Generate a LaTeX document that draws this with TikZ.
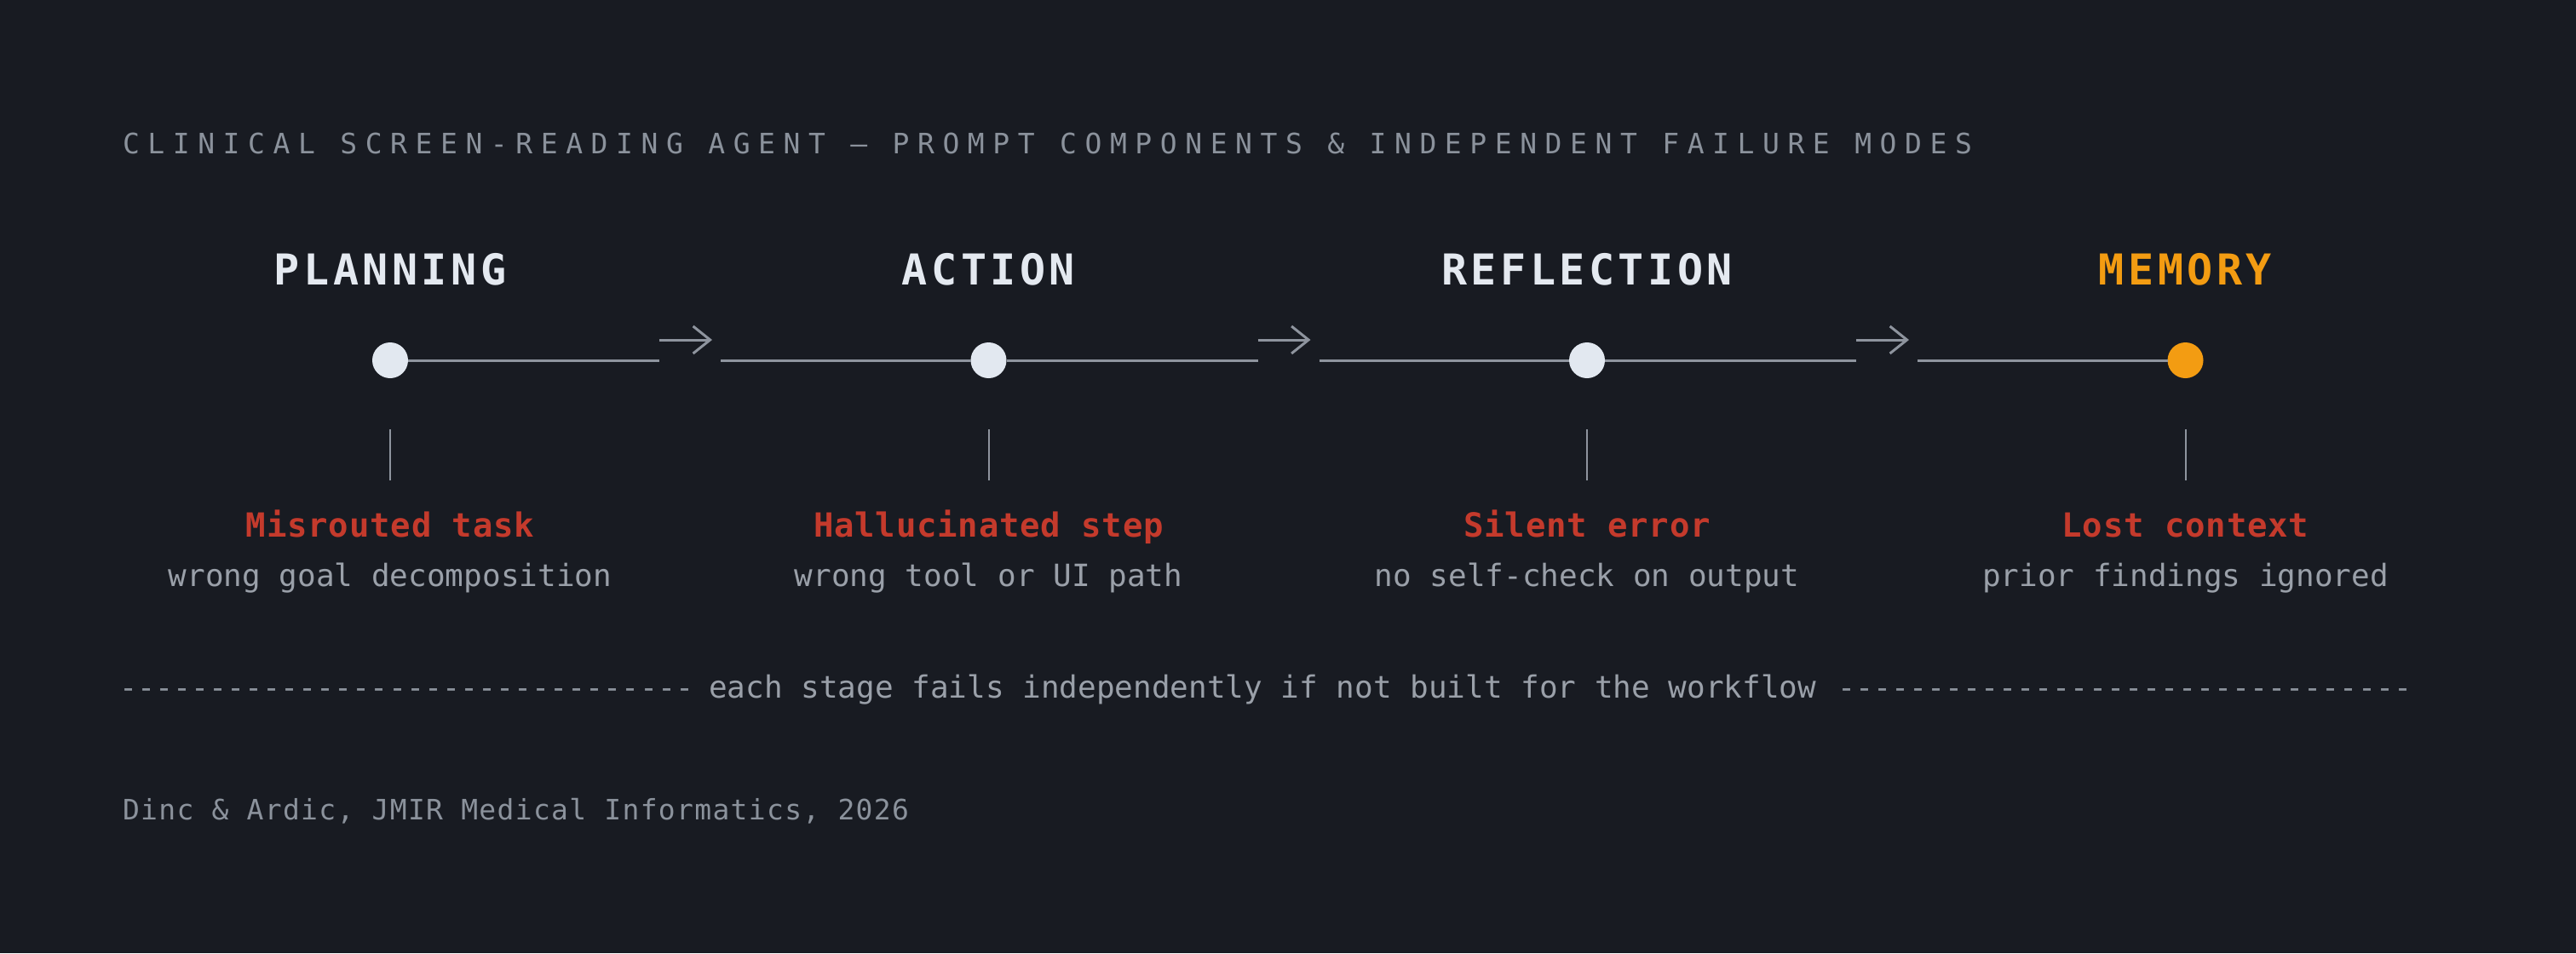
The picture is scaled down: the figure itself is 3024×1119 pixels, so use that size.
\documentclass[tikz,border=0pt]{standalone}
\usepackage{fontspec}
\usetikzlibrary{arrows.meta}
\newfontfamily\mono{DejaVu Sans Mono}
\definecolor{bgc}{HTML}{181B22}
\definecolor{titlec}{HTML}{8B929C}
\definecolor{headc}{HTML}{E4E9F0}
\definecolor{dotc}{HTML}{E2E8F0}
\definecolor{orangec}{HTML}{F39C12}
\definecolor{redc}{HTML}{C43A2C}
\definecolor{descc}{HTML}{9AA0A9}
\definecolor{linec}{HTML}{8E949E}
\tikzset{
  txt/.style={inner sep=0pt, outer sep=0pt},
  titletext/.style={txt, anchor=base west, text=titlec,
    font=\mono\fontsize{16.5pt}{20pt}\selectfont\addfontfeatures{LetterSpace=29}},
  head/.style={txt, anchor=base, text=headc,
    font=\mono\bfseries\fontsize{25pt}{30pt}\selectfont\addfontfeatures{LetterSpace=9}},
  dot/.style={circle, fill=dotc, minimum size=21pt, inner sep=0pt, outer sep=0pt},
  fail/.style={txt, anchor=base, text=redc,
    font=\mono\bfseries\fontsize{19.5pt}{24pt}\selectfont\addfontfeatures{LetterSpace=2}},
  desc/.style={txt, anchor=base, text=descc,
    font=\mono\fontsize{18pt}{22pt}\selectfont},
  conn/.style={draw=linec, line width=1.5pt},
  arr/.style={draw=linec, line width=1.5pt, -{Straight Barb[length=10pt,width=16pt]}},
  tick/.style={draw=linec, line width=1pt},
  dashrow/.style={txt, anchor=base west, text=titlec,
    font=\mono\fontsize{17.5pt}{21pt}\selectfont},
  midtext/.style={txt, anchor=base west, text=descc,
    font=\mono\fontsize{18pt}{22pt}\selectfont},
  foot/.style={txt, anchor=base west, text=titlec,
    font=\mono\fontsize{16.5pt}{20pt}\selectfont\addfontfeatures{LetterSpace=4}}
}
\begin{document}
\begin{tikzpicture}[x=0.5pt,y=-0.5pt]
\fill[bgc] (0,0) rectangle (3024,1119);
\useasboundingbox (0,0) rectangle (3024,1119);

\node[titletext] (title) at (144,180) {CLINICAL SCREEN-READING AGENT — PROMPT COMPONENTS \& INDEPENDENT FAILURE MODES};

% headings
\node[head] (h1) at (458,334) {PLANNING};
\node[head] (h2) at (1160.5,334) {ACTION};
\node[head] (h3) at (1863,334) {REFLECTION};
\node[head, text=orangec] (h4) at (2565.5,334) {MEMORY};

% dots
\node[dot] (c1) at (458,423) {};
\node[dot] (c2) at (1160.5,423) {};
\node[dot] (c3) at (1863,423) {};
\node[dot, fill=orangec] (c4) at (2565.5,423) {};

% connectors
\coordinate (e1) at (774,423);
\coordinate (a1s) at (774,399);
\coordinate (a1e) at (836,399);
\coordinate (b1) at (846,423);
\coordinate (e2) at (1476.5,423);
\coordinate (a2s) at (1476.5,399);
\coordinate (a2e) at (1538.5,399);
\coordinate (b2) at (1548.5,423);
\coordinate (e3) at (2179,423);
\coordinate (a3s) at (2179,399);
\coordinate (a3e) at (2241,399);
\coordinate (b3) at (2251,423);

\draw[conn] (c1) -- (e1);
\draw[arr] (a1s) -- (a1e);
\draw[conn] (b1) -- (c2);
\draw[conn] (c2) -- (e2);
\draw[arr] (a2s) -- (a2e);
\draw[conn] (b2) -- (c3);
\draw[conn] (c3) -- (e3);
\draw[arr] (a3s) -- (a3e);
\draw[conn] (b3) -- (c4);

% ticks
\foreach \i/\x in {1/458,2/1160.5,3/1863,4/2565.5}{
  \coordinate (t\i a) at (\x,504);
  \coordinate (t\i b) at (\x,564);
  \draw[tick] (t\i a) -- (t\i b);
}

% failure modes
\node[fail] (f1) at (458,630) {Misrouted task};
\node[fail] (f2) at (1160.5,630) {Hallucinated step};
\node[fail] (f3) at (1863,630) {Silent error};
\node[fail] (f4) at (2565.5,630) {Lost context};
\node[desc] (d1) at (458,688) {wrong goal decomposition};
\node[desc] (d2) at (1160.5,688) {wrong tool or UI path};
\node[desc] (d3) at (1863,688) {no self-check on output};
\node[desc] (d4) at (2565.5,688) {prior findings ignored};

% bottom row
\node[dashrow] (dl) at (140,819) {--------------------------------};
\node[midtext] (mid) at (832,819) {each stage fails independently if not built for the workflow};
\node[dashrow] (dr) at (2157,819) {--------------------------------};

\node[foot] (cite) at (144,962) {Dinc \& Ardic, JMIR Medical Informatics, 2026};
\end{tikzpicture}
\end{document}
